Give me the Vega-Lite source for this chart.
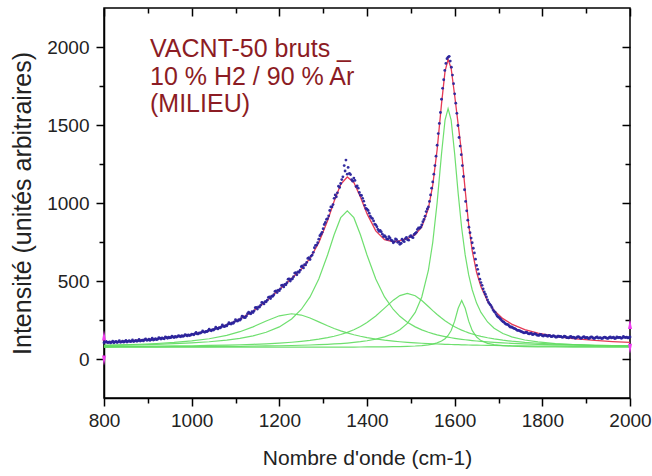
{
  "$schema": "https://vega.github.io/schema/vega-lite/v6.json",
  "width": 526,
  "height": 390,
  "autosize": {"type": "none"},
  "padding": {"left": 104, "top": 8, "right": 22, "bottom": 78},
  "background": "white",
  "config": {"view": {"stroke": "black", "strokeWidth": 1.5}, "font": "Liberation Sans"},
  "datasets": {
    "fit": [
      {"x":800,"g1":88.3,"g2":86.8,"g3":80.1,"g4":77.4,"g5":75.1,"fit":107.8},
      {"x":840,"g1":91.0,"g2":88.7,"g3":80.8,"g4":77.6,"g5":75.2,"fit":113.3},
      {"x":880,"g1":94.5,"g2":91.1,"g3":81.5,"g4":78.0,"g5":75.2,"fit":120.3},
      {"x":920,"g1":99.3,"g2":94.1,"g3":82.5,"g4":78.3,"g5":75.2,"fit":129.4},
      {"x":960,"g1":106.0,"g2":98.1,"g3":83.6,"g4":78.8,"g5":75.2,"fit":141.6},
      {"x":1000,"g1":115.6,"g2":103.4,"g3":85.0,"g4":79.3,"g5":75.3,"fit":158.5},
      {"x":1040,"g1":129.8,"g2":110.7,"g3":86.8,"g4":79.9,"g5":75.3,"fit":182.6},
      {"x":1080,"g1":151.5,"g2":121.3,"g3":89.1,"g4":80.7,"g5":75.3,"fit":218.0},
      {"x":1110,"g1":175.0,"g2":132.5,"g3":91.3,"g4":81.5,"g5":75.4,"fit":255.7},
      {"x":1140,"g1":206.1,"g2":148.3,"g3":94.0,"g4":82.4,"g5":75.4,"fit":306.2},
      {"x":1170,"g1":243.2,"g2":171.2,"g3":97.5,"g4":83.5,"g5":75.5,"fit":370.8},
      {"x":1200,"g1":276.9,"g2":205.9,"g3":102.0,"g4":84.9,"g5":75.6,"fit":445.2},
      {"x":1228,"g1":290.0,"g2":256.6,"g3":107.4,"g4":86.5,"g5":75.6,"fit":516.1},
      {"x":1250,"g1":281.7,"g2":317.4,"g3":112.9,"g4":88.0,"g5":75.7,"fit":575.7},
      {"x":1270,"g1":262.6,"g2":397.9,"g3":119.1,"g4":89.7,"g5":75.8,"fit":645.1},
      {"x":1290,"g1":238.2,"g2":512.5,"g3":126.9,"g4":91.7,"g5":75.9,"fit":745.2},
      {"x":1310,"g1":213.2,"g2":666.5,"g3":136.8,"g4":94.2,"g5":76.0,"fit":886.7},
      {"x":1325,"g1":195.9,"g2":796.3,"g3":146.0,"g4":96.5,"g5":76.1,"fit":1010.8},
      {"x":1340,"g1":180.6,"g2":905.8,"g3":157.2,"g4":99.1,"g5":76.3,"fit":1119.0},
      {"x":1355,"g1":167.2,"g2":950.0,"g3":170.9,"g4":102.3,"g5":76.4,"fit":1166.8},
      {"x":1370,"g1":155.6,"g2":905.8,"g3":187.7,"g4":106.2,"g5":76.6,"fit":1131.9},
      {"x":1385,"g1":145.8,"g2":796.3,"g3":208.5,"g4":110.9,"g5":76.8,"fit":1038.3},
      {"x":1400,"g1":137.4,"g2":666.5,"g3":233.9,"g4":116.8,"g5":77.1,"fit":931.7},
      {"x":1420,"g1":128.1,"g2":512.5,"g3":275.9,"g4":127.2,"g5":77.5,"fit":821.2},
      {"x":1440,"g1":120.6,"g2":397.9,"g3":326.0,"g4":141.9,"g5":78.1,"fit":764.5},
      {"x":1460,"g1":114.5,"g2":317.4,"g3":377.2,"g4":163.7,"g5":78.9,"fit":751.7},
      {"x":1475,"g1":110.6,"g2":273.5,"g3":406.7,"g4":187.6,"g5":79.8,"fit":758.2},
      {"x":1492,"g1":106.8,"g2":235.8,"g3":420.0,"g4":228.0,"g5":81.2,"fit":771.8},
      {"x":1510,"g1":103.4,"g2":205.9,"g3":405.2,"g4":298.3,"g5":83.4,"fit":796.2},
      {"x":1525,"g1":100.9,"g2":186.6,"g3":374.8,"g4":397.4,"g5":86.3,"fit":846.0},
      {"x":1540,"g1":98.8,"g2":171.2,"g3":336.6,"g4":567.4,"g5":90.9,"fit":964.9},
      {"x":1550,"g1":97.5,"g2":162.5,"g3":310.4,"g4":747.6,"g5":95.8,"fit":1113.7},
      {"x":1560,"g1":96.3,"g2":154.9,"g3":285.4,"g4":1002.1,"g5":103.1,"fit":1341.8},
      {"x":1570,"g1":95.2,"g2":148.3,"g3":262.3,"g4":1314.7,"g5":114.8,"fit":1635.3},
      {"x":1578,"g1":94.3,"g2":143.5,"g3":245.5,"g4":1530.8,"g5":130.0,"fit":1844.1},
      {"x":1585,"g1":93.6,"g2":139.7,"g3":232.0,"g4":1605.0,"g5":150.6,"fit":1921.0},
      {"x":1592,"g1":93.0,"g2":136.2,"g3":219.7,"g4":1530.8,"g5":183.0,"fit":1862.7},
      {"x":1600,"g1":92.3,"g2":132.5,"g3":207.0,"g4":1314.7,"g5":242.6,"fit":1689.1},
      {"x":1608,"g1":91.6,"g2":129.2,"g3":195.5,"g4":1061.8,"g5":325.5,"fit":1503.6},
      {"x":1616,"g1":91.0,"g2":126.1,"g3":185.3,"g4":840.0,"g5":375.0,"fit":1317.4},
      {"x":1624,"g1":90.4,"g2":123.3,"g3":176.1,"g4":667.4,"g5":325.5,"fit":1082.7},
      {"x":1632,"g1":89.8,"g2":120.7,"g3":167.9,"g4":538.8,"g5":242.6,"fit":859.8},
      {"x":1640,"g1":89.3,"g2":118.3,"g3":160.6,"g4":443.9,"g5":183.0,"fit":695.0},
      {"x":1650,"g1":88.7,"g2":115.5,"g3":152.4,"g4":358.5,"g5":140.7,"fit":555.8},
      {"x":1660,"g1":88.1,"g2":113.0,"g3":145.3,"g4":298.3,"g5":118.0,"fit":462.7},
      {"x":1675,"g1":87.3,"g2":109.7,"g3":136.2,"g4":237.3,"g5":100.6,"fit":371.0},
      {"x":1690,"g1":86.5,"g2":106.8,"g3":128.7,"g4":197.7,"g5":91.8,"fit":311.4},
      {"x":1710,"g1":85.6,"g2":103.4,"g3":120.5,"g4":163.7,"g5":85.6,"fit":258.8},
      {"x":1730,"g1":84.9,"g2":100.5,"g3":114.0,"g4":141.9,"g5":82.3,"fit":223.6},
      {"x":1760,"g1":83.8,"g2":97.0,"g3":106.5,"g4":121.6,"g5":79.6,"fit":188.5},
      {"x":1790,"g1":82.9,"g2":94.1,"g3":101.0,"g4":109.2,"g5":78.2,"fit":165.4},
      {"x":1830,"g1":82.0,"g2":91.1,"g3":95.5,"g4":99.1,"g5":77.1,"fit":144.8},
      {"x":1870,"g1":81.1,"g2":88.7,"g3":91.6,"g4":92.9,"g5":76.5,"fit":130.9},
      {"x":1920,"g1":80.3,"g2":86.4,"g3":88.1,"g4":88.0,"g5":76.1,"fit":118.9},
      {"x":1960,"g1":79.8,"g2":85.0,"g3":86.0,"g4":85.4,"g5":75.8,"fit":112.0},
      {"x":2000,"g1":79.3,"g2":83.8,"g3":84.4,"g4":83.5,"g5":75.7,"fit":106.6}
    ],
    "raw": [
      {"x":800,"y":104},{"x":805,"y":112},{"x":810,"y":106},{"x":815,"y":103},{"x":820,"y":114},{"x":825,"y":109},{"x":830,"y":105},{"x":835,"y":117},{"x":840,"y":110},{"x":845,"y":108},
      {"x":850,"y":119},{"x":855,"y":113},{"x":860,"y":111},{"x":865,"y":122},{"x":870,"y":115},{"x":875,"y":113},{"x":880,"y":125},{"x":885,"y":118},{"x":890,"y":116},{"x":895,"y":129},
      {"x":900,"y":121},{"x":905,"y":119},{"x":910,"y":133},{"x":915,"y":125},{"x":920,"y":124},{"x":925,"y":137},{"x":930,"y":128},{"x":935,"y":131},{"x":940,"y":142},{"x":945,"y":133},
      {"x":950,"y":136},{"x":955,"y":146},{"x":960,"y":138},{"x":965,"y":140},{"x":970,"y":150},{"x":975,"y":142},{"x":980,"y":145},{"x":985,"y":156},{"x":990,"y":148},{"x":995,"y":150},
      {"x":1000,"y":160},{"x":1005,"y":155},{"x":1010,"y":170},{"x":1015,"y":161},{"x":1020,"y":166},{"x":1025,"y":180},{"x":1030,"y":171},{"x":1035,"y":175},{"x":1040,"y":191},{"x":1045,"y":181},
      {"x":1050,"y":186},{"x":1055,"y":204},{"x":1060,"y":193},{"x":1065,"y":199},{"x":1070,"y":218},{"x":1075,"y":207},{"x":1080,"y":212},{"x":1085,"y":233},{"x":1090,"y":224},{"x":1095,"y":229},
      {"x":1100,"y":252},{"x":1105,"y":243},{"x":1110,"y":249},{"x":1115,"y":274},{"x":1120,"y":265},{"x":1125,"y":276},{"x":1130,"y":300},{"x":1135,"y":290},{"x":1140,"y":298},{"x":1145,"y":329},
      {"x":1150,"y":320},{"x":1155,"y":333},{"x":1160,"y":362},{"x":1165,"y":353},{"x":1170,"y":367},{"x":1175,"y":395},{"x":1180,"y":388},{"x":1185,"y":402},{"x":1190,"y":433},{"x":1195,"y":426},
      {"x":1200,"y":438},{"x":1205,"y":471},{"x":1210,"y":462},{"x":1215,"y":476},{"x":1220,"y":511},{"x":1225,"y":500},{"x":1230,"y":514},{"x":1235,"y":551},{"x":1240,"y":540},{"x":1245,"y":556},
      {"x":1250,"y":592},{"x":1255,"y":584},{"x":1260,"y":603},{"x":1265,"y":645},{"x":1270,"y":638},{"x":1275,"y":666},{"x":1280,"y":713},{"x":1285,"y":730},{"x":1290,"y":768},{"x":1295,"y":800},
      {"x":1300,"y":835},{"x":1305,"y":875},{"x":1310,"y":900},{"x":1315,"y":952},{"x":1320,"y":975},{"x":1325,"y":1030},{"x":1330,"y":1040},{"x":1335,"y":1108},{"x":1340,"y":1125},{"x":1345,"y":1168},
      {"x":1348,"y":1240},{"x":1350,"y":1205},{"x":1352,"y":1275},{"x":1355,"y":1185},{"x":1357,"y":1228},{"x":1360,"y":1190},{"x":1365,"y":1150},{"x":1370,"y":1160},{"x":1375,"y":1105},{"x":1380,"y":1095},
      {"x":1385,"y":1050},{"x":1390,"y":1030},{"x":1395,"y":985},{"x":1400,"y":960},{"x":1405,"y":935},{"x":1410,"y":905},{"x":1415,"y":885},{"x":1420,"y":860},{"x":1425,"y":830},{"x":1430,"y":825},
      {"x":1435,"y":800},{"x":1440,"y":790},{"x":1445,"y":770},{"x":1450,"y":785},{"x":1455,"y":762},{"x":1460,"y":745},{"x":1465,"y":770},{"x":1470,"y":748},{"x":1475,"y":735},{"x":1478,"y":742},
      {"x":1480,"y":768},{"x":1485,"y":752},{"x":1490,"y":780},{"x":1495,"y":762},{"x":1500,"y":790},{"x":1505,"y":778},{"x":1510,"y":805},{"x":1515,"y":830},{"x":1520,"y":838},{"x":1525,"y":860},
      {"x":1530,"y":895},{"x":1535,"y":945},{"x":1540,"y":975},{"x":1545,"y":1052},{"x":1547.5,"y":1095},{"x":1550,"y":1135},{"x":1552.5,"y":1185},{"x":1555,"y":1240},{"x":1557.5,"y":1300},{"x":1560,"y":1370},
      {"x":1562.5,"y":1445},{"x":1565,"y":1510},{"x":1567.5,"y":1580},{"x":1570,"y":1665},{"x":1572.5,"y":1735},{"x":1575,"y":1790},{"x":1577.5,"y":1850},{"x":1580,"y":1895},{"x":1582.5,"y":1925},{"x":1585,"y":1935},
      {"x":1587.5,"y":1940},{"x":1590,"y":1910},{"x":1592.5,"y":1870},{"x":1595,"y":1820},{"x":1597.5,"y":1765},{"x":1600,"y":1700},{"x":1602.5,"y":1640},{"x":1605,"y":1575},{"x":1607.5,"y":1497},{"x":1610,"y":1420},
      {"x":1612.5,"y":1365},{"x":1615,"y":1310},{"x":1617.5,"y":1240},{"x":1620,"y":1170},{"x":1622.5,"y":1085},{"x":1625,"y":1010},{"x":1627.5,"y":950},{"x":1630,"y":890},{"x":1632.5,"y":845},{"x":1635,"y":810},
      {"x":1637.5,"y":775},{"x":1640,"y":745},{"x":1642.5,"y":710},{"x":1645,"y":680},{"x":1647.5,"y":640},{"x":1650,"y":600},{"x":1655,"y":545},{"x":1660,"y":490},{"x":1665,"y":450},{"x":1670,"y":415},
      {"x":1675,"y":378},{"x":1680,"y":352},{"x":1685,"y":330},{"x":1690,"y":305},{"x":1695,"y":285},{"x":1700,"y":268},{"x":1705,"y":255},{"x":1710,"y":240},{"x":1715,"y":228},{"x":1720,"y":222},
      {"x":1725,"y":210},{"x":1730,"y":205},{"x":1735,"y":196},{"x":1740,"y":190},{"x":1745,"y":183},{"x":1750,"y":178},{"x":1755,"y":172},{"x":1760,"y":168},{"x":1765,"y":170},{"x":1770,"y":161},
      {"x":1775,"y":165},{"x":1780,"y":158},{"x":1785,"y":160},{"x":1790,"y":152},{"x":1795,"y":157},{"x":1800,"y":149},{"x":1805,"y":153},{"x":1810,"y":148},{"x":1815,"y":151},{"x":1820,"y":143},
      {"x":1825,"y":149},{"x":1830,"y":141},{"x":1835,"y":146},{"x":1840,"y":143},{"x":1845,"y":139},{"x":1850,"y":146},{"x":1855,"y":138},{"x":1860,"y":135},{"x":1865,"y":144},{"x":1870,"y":140},
      {"x":1875,"y":133},{"x":1880,"y":142},{"x":1885,"y":138},{"x":1890,"y":134},{"x":1895,"y":143},{"x":1900,"y":137},{"x":1905,"y":131},{"x":1910,"y":140},{"x":1915,"y":136},{"x":1920,"y":133},
      {"x":1925,"y":141},{"x":1930,"y":135},{"x":1935,"y":131},{"x":1940,"y":139},{"x":1945,"y":136},{"x":1950,"y":132},{"x":1955,"y":141},{"x":1960,"y":137},{"x":1965,"y":131},{"x":1970,"y":142},
      {"x":1975,"y":138},{"x":1980,"y":133},{"x":1985,"y":144},{"x":1990,"y":138},{"x":1995,"y":135},{"x":2000,"y":141},
      {"x":802.5,"y":109},{"x":807.5,"y":106},{"x":812.5,"y":110},{"x":817.5,"y":108},{"x":822.5,"y":104},{"x":827.5,"y":112},{"x":832.5,"y":110},{"x":837.5,"y":107},{"x":842.5,"y":114},{"x":847.5,"y":112},
      {"x":852.5,"y":109},{"x":857.5,"y":117},{"x":862.5,"y":114},{"x":867.5,"y":112},{"x":872.5,"y":119},{"x":877.5,"y":117},{"x":882.5,"y":115},{"x":887.5,"y":121},{"x":892.5,"y":124},{"x":897.5,"y":120},
      {"x":902.5,"y":127},{"x":907.5,"y":124},{"x":912.5,"y":122},{"x":917.5,"y":130},{"x":922.5,"y":127},{"x":927.5,"y":133},{"x":932.5,"y":135},{"x":937.5,"y":130},{"x":942.5,"y":138},{"x":947.5,"y":140},
      {"x":952.5,"y":137},{"x":957.5,"y":141},{"x":962.5,"y":145},{"x":967.5,"y":143},{"x":972.5,"y":146},{"x":977.5,"y":150},{"x":982.5,"y":148},{"x":987.5,"y":152},{"x":992.5,"y":155},{"x":997.5,"y":153},
      {"x":1002.5,"y":158},{"x":1007.5,"y":163},{"x":1012.5,"y":161},{"x":1017.5,"y":168},{"x":1022.5,"y":171},{"x":1027.5,"y":174},{"x":1032.5,"y":177},{"x":1037.5,"y":181},{"x":1042.5,"y":184},{"x":1047.5,"y":188},
      {"x":1052.5,"y":192},{"x":1057.5,"y":196},{"x":1062.5,"y":201},{"x":1067.5,"y":205},{"x":1072.5,"y":210},{"x":1077.5,"y":214},{"x":1082.5,"y":222},{"x":1087.5,"y":226},{"x":1092.5,"y":231},{"x":1097.5,"y":238},
      {"x":1102.5,"y":244},{"x":1107.5,"y":252},{"x":1112.5,"y":258},{"x":1117.5,"y":272},{"x":1122.5,"y":266},{"x":1127.5,"y":291},{"x":1132.5,"y":292},{"x":1137.5,"y":303},{"x":1142.5,"y":309},{"x":1147.5,"y":330},
      {"x":1152.5,"y":334},{"x":1157.5,"y":345},{"x":1162.5,"y":360},{"x":1167.5,"y":368},{"x":1172.5,"y":377},{"x":1177.5,"y":398},{"x":1182.5,"y":402},{"x":1187.5,"y":412},{"x":1192.5,"y":437},{"x":1197.5,"y":441},
      {"x":1202.5,"y":450},{"x":1207.5,"y":474},{"x":1212.5,"y":478},{"x":1217.5,"y":489},{"x":1222.5,"y":514},{"x":1227.5,"y":512},{"x":1232.5,"y":528},{"x":1237.5,"y":553},{"x":1242.5,"y":558},{"x":1247.5,"y":569},
      {"x":1252.5,"y":597},{"x":1257.5,"y":604},{"x":1262.5,"y":619},{"x":1267.5,"y":650},{"x":1272.5,"y":660},{"x":1277.5,"y":684},{"x":1282.5,"y":728},{"x":1287.5,"y":745},{"x":1292.5,"y":790},{"x":1297.5,"y":812},
      {"x":1302.5,"y":862},{"x":1307.5,"y":895},{"x":1312.5,"y":918},{"x":1317.5,"y":975},{"x":1322.5,"y":990},{"x":1327.5,"y":1052},{"x":1332.5,"y":1065},{"x":1337.5,"y":1100},{"x":1342.5,"y":1150},{"x":1362.5,"y":1182},
      {"x":1367.5,"y":1140},{"x":1372.5,"y":1145},{"x":1377.5,"y":1110},{"x":1382.5,"y":1068},{"x":1387.5,"y":1048},{"x":1392.5,"y":1012},{"x":1397.5,"y":965},{"x":1402.5,"y":952},{"x":1407.5,"y":915},{"x":1412.5,"y":900},
      {"x":1417.5,"y":865},{"x":1422.5,"y":848},{"x":1427.5,"y":818},{"x":1432.5,"y":815},{"x":1437.5,"y":785},{"x":1442.5,"y":782},{"x":1447.5,"y":768},{"x":1452.5,"y":775},{"x":1457.5,"y":758},{"x":1462.5,"y":752},
      {"x":1467.5,"y":765},{"x":1472.5,"y":750},{"x":1482.5,"y":758},{"x":1487.5,"y":772},{"x":1492.5,"y":765},{"x":1497.5,"y":785},{"x":1502.5,"y":782},{"x":1507.5,"y":798},{"x":1512.5,"y":812},{"x":1517.5,"y":840},
      {"x":1522.5,"y":845},{"x":1527.5,"y":880},{"x":1532.5,"y":915},{"x":1537.5,"y":962},{"x":1542.5,"y":1010},
      {"x":1652.5,"y":575},{"x":1657.5,"y":512},{"x":1662.5,"y":472},{"x":1667.5,"y":430},{"x":1672.5,"y":398},{"x":1677.5,"y":362},{"x":1682.5,"y":344},{"x":1687.5,"y":315},{"x":1692.5,"y":298},{"x":1697.5,"y":274},
      {"x":1702.5,"y":263},{"x":1707.5,"y":246},{"x":1712.5,"y":236},{"x":1717.5,"y":223},{"x":1722.5,"y":218},{"x":1727.5,"y":204},{"x":1732.5,"y":201},{"x":1737.5,"y":195},{"x":1742.5,"y":184},{"x":1747.5,"y":182},
      {"x":1752.5,"y":176},{"x":1757.5,"y":168},{"x":1762.5,"y":172},{"x":1767.5,"y":163},{"x":1772.5,"y":164},{"x":1777.5,"y":156},{"x":1782.5,"y":163},{"x":1787.5,"y":154},{"x":1792.5,"y":151},{"x":1797.5,"y":156},
      {"x":1802.5,"y":147},{"x":1807.5,"y":152},{"x":1812.5,"y":146},{"x":1817.5,"y":150},{"x":1822.5,"y":144},{"x":1827.5,"y":147},{"x":1832.5,"y":140},{"x":1837.5,"y":146},{"x":1842.5,"y":144},{"x":1847.5,"y":140},
      {"x":1852.5,"y":145},{"x":1857.5,"y":137},{"x":1862.5,"y":141},{"x":1867.5,"y":138},{"x":1872.5,"y":139},{"x":1877.5,"y":135},{"x":1882.5,"y":143},{"x":1887.5,"y":132},{"x":1892.5,"y":140},{"x":1897.5,"y":136},
      {"x":1902.5,"y":139},{"x":1907.5,"y":133},{"x":1912.5,"y":142},{"x":1917.5,"y":131},{"x":1922.5,"y":139},{"x":1927.5,"y":134},{"x":1932.5,"y":137},{"x":1937.5,"y":132},{"x":1942.5,"y":140},{"x":1947.5,"y":133},
      {"x":1952.5,"y":138},{"x":1957.5,"y":135},{"x":1962.5,"y":140},{"x":1967.5,"y":133},{"x":1972.5,"y":137},{"x":1977.5,"y":139},{"x":1982.5,"y":135},{"x":1987.5,"y":139},{"x":1992.5,"y":140},{"x":1997.5,"y":136}
    ],
    "anchors": [
      {"x":800,"y":150,"dir":"up"},{"x":800,"y":-10,"dir":"down"},
      {"x":2000,"y":225,"dir":"up"},{"x":2000,"y":65,"dir":"down"}
    ]
  },
  "resolve": {"axis": {"x": "independent", "y": "independent"}},
  "layer": [
    {
      "data": {"name": "fit"},
      "transform": [{"fold": ["g1","g2","g3","g4","g5"], "as": ["comp","val"]}],
      "mark": {"type": "line", "color": "#5fdc5f", "strokeWidth": 1.2, "opacity": 0.9},
      "encoding": {
        "x": {"field": "x", "type": "quantitative",
          "scale": {"domain": [800, 2000], "nice": false, "zero": false},
          "axis": {"orient": "bottom", "values": [800,900,1000,1100,1200,1300,1400,1500,1600,1700,1800,1900,2000],
            "format": "d", "labelExpr": "datum.value % 200 === 0 ? datum.label : ''",
            "tickSize": {"condition": {"test": "datum.value % 200 === 0", "value": 8}, "value": 5},
            "domainColor": "black", "domainWidth": 1.5, "tickColor": "black", "tickWidth": 1.5,
            "labelFontSize": 19, "labelColor": "#222", "labelPadding": 5, "labelFlush": false, "labelOverlap": false,
            "title": "Nombre d'onde (cm-1)", "titleFontSize": 21, "titleFontWeight": "normal", "titleColor": "#222", "titlePadding": 17, "grid": false}},
        "y": {"field": "val", "type": "quantitative",
          "scale": {"domain": [-250, 2250], "nice": false, "zero": false},
          "axis": {"orient": "left", "values": [0,250,500,750,1000,1250,1500,1750,2000],
            "format": "d", "labelExpr": "datum.value % 500 === 0 ? datum.label : ''",
            "tickSize": {"condition": {"test": "datum.value % 500 === 0", "value": 8}, "value": 5},
            "domainColor": "black", "domainWidth": 1.5, "tickColor": "black", "tickWidth": 1.5,
            "labelFontSize": 19, "labelColor": "#222", "labelPadding": 7, "labelFlush": false, "labelOverlap": false,
            "title": "Intensité (unités arbitraires)", "titleFontSize": 25, "titleFontWeight": "normal", "titleColor": "#222", "titlePadding": 11, "grid": false}},
        "detail": {"field": "comp"}
      }
    },
    {
      "data": {"name": "fit"},
      "mark": {"type": "line", "color": "#e63a55", "strokeWidth": 1.3},
      "encoding": {
        "x": {"field": "x", "type": "quantitative",
          "axis": {"orient": "top", "values": [800,900,1000,1100,1200,1300,1400,1500,1600,1700,1800,1900,2000],
            "labels": false, "domain": false, "title": null, "grid": false,
            "tickSize": {"condition": {"test": "datum.value % 200 === 0", "value": -8}, "value": -5},
            "tickColor": "black", "tickWidth": 1.5}},
        "y": {"field": "fit", "type": "quantitative",
          "axis": {"orient": "right", "values": [0,250,500,750,1000,1250,1500,1750,2000],
            "labels": false, "domain": false, "title": null, "grid": false,
            "tickSize": {"condition": {"test": "datum.value % 500 === 0", "value": -8}, "value": -5},
            "tickColor": "black", "tickWidth": 1.5}}
      }
    },
    {
      "data": {"name": "raw"},
      "mark": {"type": "point", "filled": true, "size": 8, "color": "#2a239c", "opacity": 0.95},
      "encoding": {
        "x": {"field": "x", "type": "quantitative", "axis": null},
        "y": {"field": "y", "type": "quantitative", "axis": null}
      }
    },
    {
      "data": {"name": "anchors"},
      "mark": {"type": "point", "filled": true, "size": 100, "color": "#f03cf0", "opacity": 1},
      "encoding": {
        "x": {"field": "x", "type": "quantitative", "axis": null},
        "y": {"field": "y", "type": "quantitative", "axis": null},
        "shape": {"field": "dir", "type": "nominal", "legend": null,
          "scale": {"domain": ["up", "down"], "range": ["M0,-1L0.4,1L-0.4,1Z", "M0,1L0.4,-1L-0.4,-1Z"]}}
      }
    },
    {
      "data": {"values": [{}]},
      "mark": {"type": "text", "text": ["VACNT-50 bruts _", "10 % H2 / 90 % Ar", "(MILIEU)"],
        "align": "left", "baseline": "alphabetic", "fontSize": 25, "lineHeight": 27.5,
        "color": "#8c1c24", "font": "Liberation Sans"},
      "encoding": {
        "x": {"datum": 905, "type": "quantitative", "axis": null},
        "y": {"datum": 1934, "type": "quantitative", "axis": null}
      }
    }
  ]
}
